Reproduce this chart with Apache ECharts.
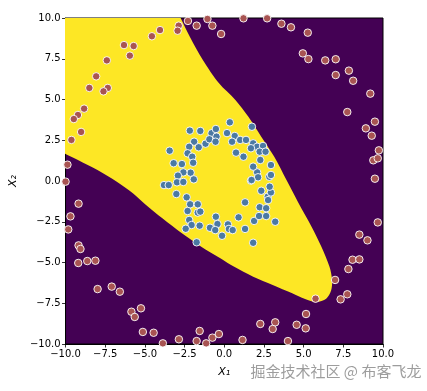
<!DOCTYPE html>
<html>
<head>
<meta charset="utf-8">
<script src="https://cdn.jsdelivr.net/npm/echarts@6/dist/echarts.min.js"></script>
<style>
html,body{margin:0;padding:0;background:#fff;}
#chart{width:427px;height:391px;}
</style>
</head>
<body>
<div id="chart"></div>
<script>
// Axis ticks
const tickValues = [-10, -7.5, -5, -2.5, 0, 2.5, 5, 7.5, 10];

// Yellow decision region (class 1) boundary, in data coordinates (corners extended past the axes, clipped)
const regionX = [-11, -3.25, -2.75, -2.17, -1.35, -0.33, 0.70, 1.52, 2.33, 3.15, 3.92, 4.65, 5.50, 6.12, 6.63, 6.79, 6.73, 6.42, 5.81, 5.09, 4.28, 3.05, 1.82, 0.60, -0.22, -1.45, -2.67, -3.90, -4.93, -5.74, -6.77, -7.99, -9.22, -10, -11];
const regionY = [11, 11, 10, 8.85, 7.42, 5.99, 4.97, 3.94, 2.72, 1.49, 0.06, -1.30, -2.80, -4.03, -5.26, -6.07, -6.72, -7.22, -7.42, -7.24, -6.89, -6.38, -5.87, -5.25, -4.75, -4.03, -3.21, -2.29, -1.47, -0.76, -0.04, 0.67, 1.29, 1.66, 2.05];

// Outer ring samples (class 0)
const outerX = [-2.87, -2.94, -4.05, -4.56, -6.32, -5.71, -5.95, -7.40, -8.07, -8.50, -7.34, -7.61, -8.83, -9.22, -9.48, -9.02, -9.63, -9.88, -10.0,
  -2.29, -1.74, -1.06, -0.75, -0.20, 1.21, 2.70, 3.60, 4.20, 5.26, 4.95, 5.30, 6.36, 7.02, 7.02, 7.85, 8.12, 9.20, 7.75, 9.49, 8.92, 9.29, 9.74, 9.39, 9.67, 9.49,
  9.67, 8.51, 9.02, 8.08, 8.51, 7.82, 6.98, 5.75, 7.33, 7.75, 5.15, 2.27, 3.21, 3.05, 4.56, 5.13, 4.01, 1.15, -0.34, -0.75, -1.14,
  -9.18, -9.69, -9.83, -9.18, -9.06, -9.20, -8.63, -8.12, -7.98, -7.09, -6.58, -5.85, -5.64, -5.25, -5.13, -4.45, -3.87, -2.86, -1.74, -1.55];
const outerY = [9.53, 9.22, 9.26, 8.88, 8.34, 8.28, 7.69, 7.40, 6.42, 5.71, 5.71, 5.50, 4.44, 4.05, 3.80, 3.01, 2.52, 1.00, -0.04,
  9.82, 9.53, 9.94, 9.53, 9.02, 9.98, 9.98, 9.65, 9.43, 9.10, 7.83, 7.48, 7.40, 7.47, 6.50, 6.77, 6.15, 5.36, 4.23, 3.64, 3.23, 2.78, 1.88, 1.27, 1.39, 0.14,
  -2.54, -3.29, -3.64, -4.83, -4.81, -5.40, -6.07, -7.22, -7.26, -6.95, -8.16, -8.77, -8.67, -9.08, -8.82, -9.04, -9.82, -9.75, -9.39, -9.61, -9.96,
  -1.39, -2.17, -2.97, -3.95, -4.17, -5.03, -4.91, -4.89, -6.63, -6.48, -6.79, -8.02, -8.34, -7.81, -9.26, -9.31, -9.96, -9.71, -9.82, -9.20];

// Inner ring samples (class 1)
const innerX = [-2.17, -1.51, -0.80, -0.53, -0.49, 0.35, 0.17, 0.66, 0.49, 1.00, 1.37, 1.74, 1.82, 2.07, 2.44, 2.23, 2.60, 0.74, 1.21, 1.68,
  -1.18, -0.94, -0.55, -1.90, -1.61, -2.21, -2.31, -2.02, -3.44, -3.19, -2.67, -1.96, -2.12, -2.58, -2.92, -1.92, -2.98, -2.58, -3.80, -3.50,
  -3.02, -2.37, -2.15, -1.67, -2.31, -1.67, -1.51, -2.21, -1.55, -2.06, -2.43, -0.53, -0.43, -0.90, -0.57, -0.14, 0.23, 0.29, 0.53, 0.90,
  1.31, 1.31, 1.88, 2.23, 2.64, 2.19, 2.64, 2.74, 2.76, 2.33, 2.94, 2.86, 2.84, 2.94, 2.07, 2.13, 1.68, 1.82, 2.94, 3.21, -1.74, 1.82, 2.27, 1.72];
const innerY = [3.09, 3.07, 2.93, 3.19, 2.72, 3.60, 2.94, 2.76, 2.41, 2.52, 2.52, 3.33, 2.31, 2.10, 2.15, 1.80, 1.80, 1.74, 1.49, 2.01,
  2.29, 2.56, 2.41, 2.41, 2.07, 2.10, 1.70, 1.49, 1.86, 1.09, 1.04, 1.12, 0.51, 0.53, 0.33, 0.10, -0.08, -0.06, -0.25, -0.25,
  -0.80, -1.00, -1.43, -1.43, -1.84, -1.94, -1.88, -2.39, -2.74, -2.70, -2.93, -2.19, -2.64, -2.87, -3.01, -3.36, -2.66, -2.94, -3.01, -2.23,
  -1.31, -2.94, -2.45, -1.61, -1.67, -2.15, -2.15, -0.96, -1.17, -0.60, -0.70, -0.35, 0.26, 0.37, 0.53, 0.23, 0.02, 0.88, 0.98, -2.50, -3.76, -3.79, 1.29, 0.06];

const zip = (xs, ys) => xs.map((x, i) => [x, ys[i]]);
const fmt = v => (v < 0 ? '\u2212' : '') + Math.abs(v).toFixed(1);

const chart = echarts.init(document.getElementById('chart'), null, {renderer: 'canvas'});
const axisCommon = {
  type: 'value', min: -10, max: 10, interval: 2.5,
  axisLine: {show: true, onZero: false, lineStyle: {color: '#000', width: 1}},
  axisTick: {show: true, inside: false, length: 3.5, lineStyle: {color: '#000', width: 0.8}},
  axisLabel: {formatter: fmt, color: '#000', fontSize: 10, fontFamily: 'DejaVu Sans', margin: 5},
  splitLine: {show: false}
};
chart.setOption({
  animation: false,
  backgroundColor: '#fff',
  grid: {left: 57, top: 18, width: 326, height: 326, show: true, backgroundColor: '#440154', borderColor: '#000', borderWidth: 1},
  xAxis: Object.assign({}, axisCommon, {
    name: 'X\u2081', nameLocation: 'middle', nameGap: 23,
    nameTextStyle: {fontSize: 11, fontStyle: 'italic', fontFamily: 'DejaVu Sans', color: '#000'}
  }),
  yAxis: Object.assign({}, axisCommon, {
    name: 'X\u2082', nameLocation: 'middle', nameGap: 42,
    nameTextStyle: {fontSize: 11, fontStyle: 'italic', fontFamily: 'DejaVu Sans', color: '#000'}
  }),
  series: [
    {
      type: 'custom',
      clip: true,
      silent: true,
      data: [[0, 0]],
      renderItem: function (params, api) {
        const pts = regionX.map((x, i) => api.coord([x, regionY[i]]));
        return {type: 'polygon', shape: {points: pts, smooth: 0.3}, style: {fill: '#fde725', stroke: null}};
      },
      z: 1
    },
    {
      type: 'scatter', data: zip(outerX, outerY), symbolSize: 7.5,
      itemStyle: {color: '#a85452', borderColor: '#fff', borderWidth: 0.9, opacity: 1}, z: 3, clip: false
    },
    {
      type: 'scatter', data: zip(innerX, innerY), symbolSize: 7.5,
      itemStyle: {color: '#4b79a3', borderColor: '#fff', borderWidth: 0.9, opacity: 1}, z: 3, clip: false
    }
  ],
  graphic: [{
    type: 'text', left: 250, top: 363, z: 100,
    style: {text: '掘金技术社区 @ 布客飞龙', fontSize: 15, fontFamily: 'Noto Sans CJK SC', fill: 'rgba(140,140,140,0.85)', stroke: 'rgba(255,255,255,0.6)', lineWidth: 1}
  }]
});
</script>
</body>
</html>
